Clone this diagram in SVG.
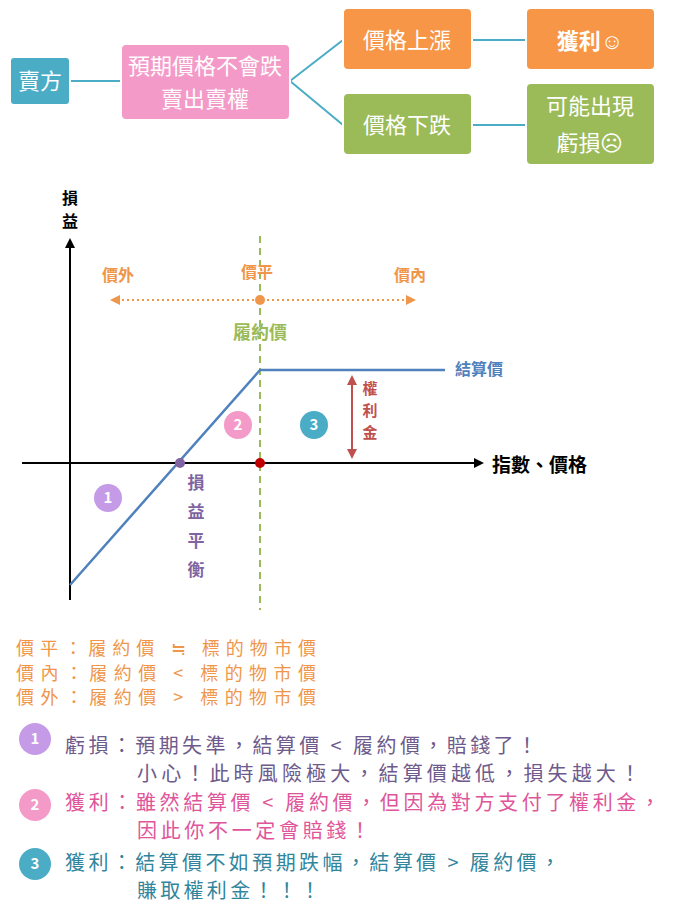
<svg xmlns="http://www.w3.org/2000/svg" width="700" height="917" viewBox="0 0 700 917">
<defs>
<style>
text{font-family:"Noto Sans CJK TC","Noto Sans CJK SC",sans-serif;}
.bx{stroke:#fff;stroke-width:2}
.wt{fill:#fff;font-size:22px;text-anchor:middle}
.cn{stroke:#4BACC6;stroke-width:2;fill:none}
.or{fill:#F0964A;font-size:18px}
.nm{fill:#fff;font-size:15px;text-anchor:middle;font-weight:bold}
</style>
<marker id="ah" markerWidth="10" markerHeight="10" refX="8" refY="5" orient="auto" markerUnits="userSpaceOnUse"><path d="M0,0L10,5L0,10z" fill="#000"/></marker>
<marker id="oa" markerWidth="10" markerHeight="10" refX="8" refY="5" orient="auto-start-reverse" markerUnits="userSpaceOnUse"><path d="M0,0L10,5L0,10z" fill="#F0964A"/></marker>
<marker id="ra" markerWidth="10" markerHeight="10" refX="8" refY="5" orient="auto-start-reverse" markerUnits="userSpaceOnUse"><path d="M0,0L10,5L0,10z" fill="#C0504D"/></marker>
</defs>
<rect width="700" height="917" fill="#fff"/>
<g id="connectors">
<path class="cn" d="M70,81H121M290,81L343,40M290,81L343,125M472,40H526M472,125H526"/>
</g>
<g id="n1"><rect class="bx" x="10" y="57" width="60" height="48" rx="4" fill="#4BACC6"/><text class="wt" x="40" y="89">賣方</text></g>
<g id="n2"><rect class="bx" x="121" y="44" width="169" height="76" rx="5" fill="#F49AC8"/><text class="wt" x="205" y="74" font-size="20">預期價格不會跌</text><text class="wt" x="205" y="107" font-size="20">賣出賣權</text></g>
<g id="n3"><rect class="bx" x="343" y="8" width="129" height="62" rx="5" fill="#F79646"/><text class="wt" x="407" y="48">價格上漲</text></g>
<g id="n4"><rect class="bx" x="526" y="8" width="129" height="62" rx="5" fill="#F79646"/><text class="wt" x="590" y="49" font-size="26" font-weight="bold">獲利☺</text></g>
<g id="n5"><rect class="bx" x="343" y="93" width="129" height="62" rx="5" fill="#9BBB59"/><text class="wt" x="407" y="133">價格下跌</text></g>
<g id="n6"><rect class="bx" x="526" y="83" width="129" height="82" rx="5" fill="#9BBB59"/><text class="wt" x="590" y="114">可能出現</text><text class="wt" x="590" y="151">虧損☹</text></g>

<g id="chart">
<line x1="260" y1="236" x2="260" y2="610" stroke="#9BBB59" stroke-width="2" stroke-dasharray="7,5"/>
<line x1="70" y1="600" x2="70" y2="240" stroke="#000" stroke-width="2" marker-end="url(#ah)"/>
<line x1="22" y1="463" x2="482" y2="463" stroke="#000" stroke-width="2" marker-end="url(#ah)"/>
<text x="70" y="204" font-size="16" font-weight="bold" text-anchor="middle">損</text>
<text x="70" y="227" font-size="16" font-weight="bold" text-anchor="middle">益</text>
<text x="492" y="472" font-size="19" font-weight="bold">指數、價格</text>
<line x1="112" y1="300" x2="414" y2="300" stroke="#F0964A" stroke-width="2" stroke-dasharray="2,3" marker-start="url(#oa)" marker-end="url(#oa)"/>
<circle cx="260" cy="300" r="5" fill="#F0964A"/>
<text x="118" y="281" font-size="16" font-weight="bold" fill="#F0964A" text-anchor="middle">價外</text>
<text x="257" y="278" font-size="16" font-weight="bold" fill="#F0964A" text-anchor="middle">價平</text>
<text x="410" y="281" font-size="16" font-weight="bold" fill="#F0964A" text-anchor="middle">價內</text>
<text x="260" y="339" font-size="18" font-weight="bold" fill="#9BBB59" text-anchor="middle">履約價</text>
<polyline points="70,585 260,370 445,370" fill="none" stroke="#4F81BD" stroke-width="2.5"/>
<text x="455" y="375" font-size="16" font-weight="bold" fill="#4F81BD">結算價</text>
<circle cx="180" cy="463" r="5" fill="#8064A2"/>
<circle cx="260" cy="463" r="5" fill="#C00000"/>
<g font-size="17" font-weight="bold" fill="#8064A2" text-anchor="middle"><text x="196" y="489">損</text><text x="196" y="518">益</text><text x="196" y="547">平</text><text x="196" y="576">衡</text></g>
<line x1="352" y1="377" x2="352" y2="457" stroke="#C0504D" stroke-width="2" marker-start="url(#ra)" marker-end="url(#ra)"/>
<g font-size="15" font-weight="bold" fill="#C0504D" text-anchor="middle"><text x="370" y="394">權</text><text x="370" y="416">利</text><text x="370" y="438">金</text></g>
<circle cx="108" cy="498" r="14" fill="#C59BE8"/><text class="nm" x="108" y="503">1</text>
<circle cx="238" cy="425" r="14" fill="#F49AC8"/><text class="nm" x="238" y="430">2</text>
<circle cx="314" cy="425" r="14" fill="#4BACC6"/><text class="nm" x="314" y="430">3</text>
</g>

<g id="legend">
<text class="or" x="16" y="655" textLength="300" lengthAdjust="spacing">價平：履約價  ≒ 標的物市價</text>
<text class="or" x="16" y="680" textLength="300" lengthAdjust="spacing">價內：履約價  &lt;  標的物市價</text>
<text class="or" x="16" y="704" textLength="300" lengthAdjust="spacing">價外：履約價  &gt;  標的物市價</text>
<circle cx="35" cy="739" r="16" fill="#C59BE8"/><text class="nm" x="35" y="744">1</text>
<text x="65" y="753" font-size="20" fill="#6E5A8C" textLength="472" lengthAdjust="spacing">虧損：預期失準，結算價 &lt; 履約價，賠錢了！</text>
<text x="137" y="781" font-size="20" fill="#6E5A8C" textLength="503" lengthAdjust="spacing">小心！此時風險極大，結算價越低，損失越大！</text>
<circle cx="35" cy="805" r="16" fill="#F49AC8"/><text class="nm" x="35" y="810">2</text>
<text x="65" y="810" font-size="20" fill="#E0559A" textLength="595" lengthAdjust="spacing">獲利：雖然結算價 &lt; 履約價，但因為對方支付了權利金，</text>
<text x="137" y="838" font-size="20" fill="#E0559A" textLength="233" lengthAdjust="spacing">因此你不一定會賠錢！</text>
<circle cx="35" cy="864" r="16" fill="#4BACC6"/><text class="nm" x="35" y="869">3</text>
<text x="65" y="870" font-size="20" fill="#31859C" textLength="495" lengthAdjust="spacing">獲利：結算價不如預期跌幅，結算價 &gt; 履約價，</text>
<text x="137" y="898" font-size="20" fill="#31859C" textLength="183" lengthAdjust="spacing">賺取權利金！！！</text>
</g>
</svg>
